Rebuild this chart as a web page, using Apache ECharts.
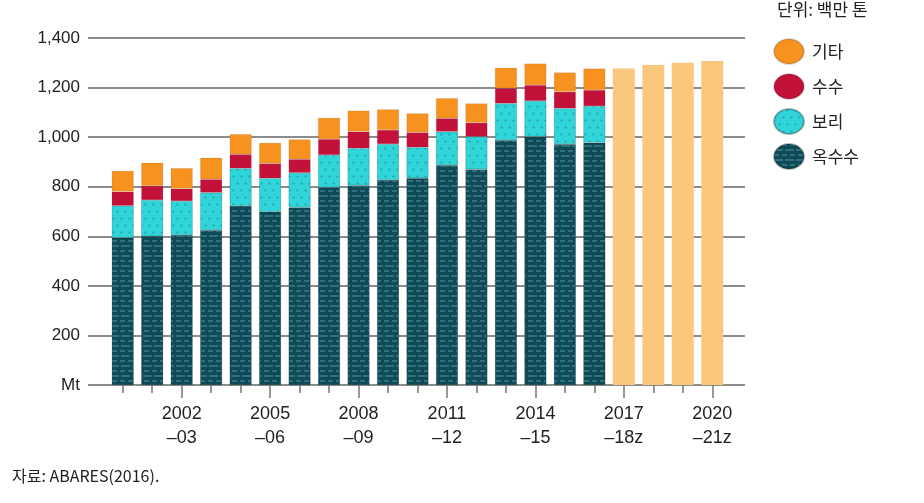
<!DOCTYPE html>
<html><head><meta charset="utf-8">
<script src="https://cdn.jsdelivr.net/npm/echarts@6/dist/echarts.min.js"></script>
<style>html,body{margin:0;padding:0;background:#fff}#c{width:924px;height:503px}</style>
</head><body><div id="c"></div>
<script>
const categories = ['2000–01','2001–02','2002–03','2003–04','2004–05','2005–06','2006–07','2007–08','2008–09','2009–10','2010–11','2011–12','2012–13','2013–14','2014–15','2015–16','2016–17','2017–18z','2018–19z','2019–20z','2020–21z'];
const corn    = [594, 600, 605, 625, 723, 699, 716, 797, 805, 827, 834, 887, 870, 988, 1002, 972, 978];
const barley  = [129, 146, 137, 151, 151, 135, 140, 131, 150, 145, 125, 135, 132, 148, 144, 144, 147];
const sorghum = [57, 57, 50, 54, 57, 60, 55, 64, 67, 57, 60, 54, 56, 61, 64, 67, 65];
const other   = [84, 94, 83, 87, 81, 83, 80, 86, 85, 83, 77, 81, 78, 83, 87, 78, 87];
const forecast = [1277, 1291, 1300, 1307];
const yTicks = [0, 200, 400, 600, 800, 1000, 1200, 1400];
const seriesNames = ['옥수수', '보리', '수수', '기타'];
const legendOrder = ['기타', '수수', '보리', '옥수수'];
const unitText = '단위: 백만 톤';
const sourceText = '자료: ABARES(2016).';

const FONT = '"Liberation Sans Narrow","Liberation Sans","Noto Sans CJK KR",sans-serif';
const KFONT = '"Noto Sans CJK KR","Liberation Sans",sans-serif';
const nF = forecast.length;
const padEnd = a => a.concat(new Array(nF).fill('-'));
const padStart = a => new Array(categories.length - a.length).fill('-').concat(a);
const labeled = i => i % 3 === 2;

const chart = echarts.init(document.getElementById('c'));
const BW = 22;
function bar(name, data, color, decal) {
  return { name, type: 'bar', stack: 'total', xAxisIndex: 0, yAxisIndex: 0, barWidth: BW,
    data, itemStyle: { color, borderColor: 'rgba(0,0,0,0.15)', borderWidth: 0.6, decal } };
}
chart.setOption({
  animation: false,
  textStyle: { fontFamily: FONT },
  title: { text: unitText, left: 777, top: 1, padding: 0, textStyle: { fontFamily: KFONT, fontSize: 17, fontWeight: 'normal', color: '#222' } },
  legend: {
    data: legendOrder, orient: 'vertical', left: 773, top: 38, padding: 0,
    itemWidth: 30, itemHeight: 25, itemGap: 8,
    icon: 'path://M0,12.5 A15,12.5 0 1,1 30,12.5 A15,12.5 0 1,1 0,12.5 Z',
    textStyle: { fontFamily: KFONT, fontSize: 17, color: '#222', padding: [0, 0, 0, 3] }
  },
  graphic: [{ type: 'text', left: 12, top: 468, style: { text: sourceText, font: '16px ' + KFONT, fill: '#222' } }],
  grid: [
    { left: 108, right: 197, top: 38, bottom: 118 },
    { left: 88, right: 179, top: 38, bottom: 118 }
  ],
  xAxis: [
    { type: 'category', gridIndex: 0, data: categories, position: 'bottom',
      axisLine: { show: false }, axisLabel: { show: false },
      axisTick: { show: true, alignWithLabel: true, interval: 0, length: 8, lineStyle: { color: '#777', width: 1.5 } } },
    { type: 'category', gridIndex: 0, data: categories, position: 'bottom',
      axisLine: { show: false },
      axisTick: { show: true, alignWithLabel: true, interval: (i) => labeled(i), length: 13, lineStyle: { color: '#777', width: 1.5 } },
      axisLabel: { interval: (i) => labeled(i), margin: 17, fontSize: 18, color: '#222', lineHeight: 24,
        formatter: v => v.replace('–', '\n–') } },
    { type: 'value', gridIndex: 1, show: false, min: 0, max: 1 }
  ],
  yAxis: [
    { type: 'value', gridIndex: 0, min: 0, max: 1400, interval: 200, show: false },
    { type: 'value', gridIndex: 1, min: 0, max: 1400, interval: 200,
      axisLine: { show: false }, axisTick: { show: false },
      splitLine: { show: true, lineStyle: { color: '#666', width: 1.5 } },
      axisLabel: { margin: 8, fontSize: 17, color: '#222',
        formatter: v => v === 0 ? 'Mt' : v.toLocaleString('en-US') } }
  ],
  series: [
    bar(seriesNames[0], padEnd(corn), '#0E4B57', { symbol: 'rect', symbolSize: 1, color: 'rgba(80,150,165,0.5)', dashArrayX: [[9, 2], [5, 3]], dashArrayY: [1.2, 2.8] }),
    bar(seriesNames[1], padEnd(barley), '#2FD5D8', { symbol: 'circle', symbolSize: 0.7, color: 'rgba(30,120,150,0.55)', dashArrayX: [[3, 5], [0, 4, 3, 1]], dashArrayY: [3, 4] }),
    bar(seriesNames[2], padEnd(sorghum), '#C4113A'),
    bar(seriesNames[3], padEnd(other), '#F7921E'),
    { name: '전망', type: 'bar', stack: 'total', xAxisIndex: 0, yAxisIndex: 0, barWidth: BW,
      data: padStart(forecast), itemStyle: { color: '#FAC77D' } }
  ]
});
</script></body></html>
